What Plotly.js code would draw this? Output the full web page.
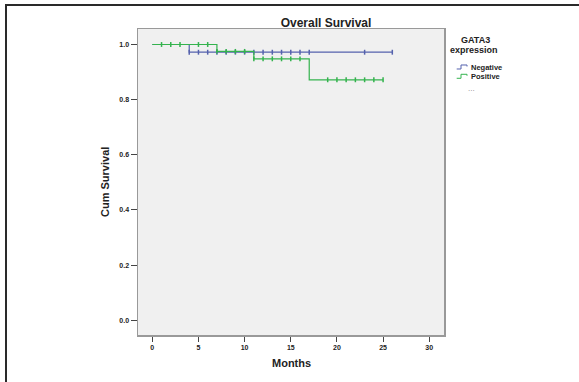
<!DOCTYPE html>
<html>
<head>
<meta charset="utf-8">
<script src="https://cdn.plot.ly/plotly-3.0.1.min.js"></script>
<style>
  html, body { margin:0; padding:0; background:#fff; overflow:hidden; }
  #frame { position:absolute; left:5px; top:4px; width:600px; height:400px; border:2.5px solid #2a2a2a; box-sizing:border-box; pointer-events:none; }
  #chart { position:absolute; left:0; top:0; width:579px; height:382px; }
</style>
</head>
<body>
<div id="chart"></div>
<div id="frame"></div>
<script>
// ---- Data ----
// Negative GATA3 expression: step function (event times and survival after event)
var negStepTime = [0, 4, 26];
var negStepSurv = [1.0, 0.972, 0.972];
var negCensorTime = [4, 5, 6, 7, 8, 9, 10, 11, 12, 13, 14, 15, 16, 17, 23, 26];

// Positive GATA3 expression
var posStepTime = [0, 7, 11, 17, 25];
var posStepSurv = [1.0, 0.975, 0.948, 0.872, 0.872];
var posCensorTime = [1, 2, 3, 5, 6, 7, 8, 9, 10, 11, 12, 13, 14, 15, 16, 19, 20, 21, 22, 23, 24, 25];

var xTicks = [0, 5, 10, 15, 20, 25, 30];
var groupNames = ['Negative', 'Positive'];
var legendTitle = ['GATA3', 'expression'];

// ---- Styles ----
var blue = '#5562ad';
var green = '#34b34e';
var W = 579, H = 382;
var mL = 138, mR = 135, mT = 29, mB = 47;
var pw = W - mL - mR, ph = H - mT - mB;
function px(x) { return (x - mL) / pw; }
function py(y) { return (H - mB - y) / ph; }

function survAt(times, surv, t) {
  var s = surv[0];
  for (var i = 0; i < times.length; i++) { if (times[i] <= t) s = surv[i]; }
  return s;
}

function stepTrace(times, surv, color, name) {
  return { x: times, y: surv, type: 'scatter', mode: 'lines', line: { shape: 'hv', color: color, width: 1.2 }, name: name, showlegend: false, hoverinfo: 'skip' };
}
function censorTrace(ct, times, surv, color, name) {
  return { x: ct, y: ct.map(function (t) { return survAt(times, surv, t); }), type: 'scatter', mode: 'markers',
    marker: { symbol: 'line-ns-open', size: 3.5, color: color, line: { color: color, width: 1.5 } }, name: name, showlegend: false, hoverinfo: 'skip' };
}

var data = [
  stepTrace(negStepTime, negStepSurv, blue, groupNames[0]),
  censorTrace(negCensorTime, negStepTime, negStepSurv, blue, groupNames[0]),
  stepTrace(posStepTime, posStepSurv, green, groupNames[1]),
  censorTrace(posCensorTime, posStepTime, posStepSurv, green, groupNames[1])
];

var tickFont = { family: 'Liberation Sans, Arial, sans-serif', size: 7, color: '#222', weight: 'bold' };
var lblFont = { family: 'Liberation Sans, Arial, sans-serif', size: 11, color: '#222', weight: 'bold' };

function iconPath(yc) {
  var p = [[456.7, yc + 2], [461, yc + 2], [461, yc - 2], [467, yc - 2], [467, yc - 0.5]];
  return p.map(function (q, i) { return (i ? 'L' : 'M') + px(q[0]).toFixed(4) + ',' + py(q[1]).toFixed(4); }).join(' ');
}

var layout = {
  width: W, height: H,
  margin: { l: mL, r: mR, t: mT, b: mB, pad: 0 },
  paper_bgcolor: 'rgba(0,0,0,0)',
  plot_bgcolor: '#f0f0f0',
  showlegend: false,
  title: { text: 'Overall Survival', x: px(326), xref: 'paper', xanchor: 'center', y: 1 - 22.3 / H, yref: 'container', yanchor: 'middle',
    font: { family: 'Liberation Sans, Arial, sans-serif', size: 12, color: '#222', weight: 'bold' } },
  xaxis: { range: [-1.55, 31.6], tickvals: xTicks, ticktext: xTicks.map(String), ticks: 'outside', ticklen: 5, tickwidth: 1, tickcolor: '#444',
    showline: true, mirror: true, linecolor: '#999', linewidth: 1.5, showgrid: false, zeroline: false, tickfont: tickFont, fixedrange: true },
  yaxis: { range: [-0.0533, 1.0562], dtick: 0.2, tick0: 0, tickformat: '.1f', ticks: 'outside', ticklen: 6, tickwidth: 1, tickcolor: '#444',
    showline: true, mirror: true, linecolor: '#999', linewidth: 1.5, showgrid: false, zeroline: false, tickfont: tickFont, fixedrange: true },
  annotations: [
    { text: 'Months', xref: 'paper', yref: 'paper', x: 0.5, y: py(363), xanchor: 'center', yanchor: 'middle', showarrow: false, font: lblFont },
    { text: 'Cum Survival', xref: 'paper', yref: 'paper', x: px(105), y: py(182), xanchor: 'center', yanchor: 'middle', textangle: -90, showarrow: false, font: lblFont },
    { text: legendTitle[0], xref: 'paper', yref: 'paper', x: px(475.8), y: py(39.7), xanchor: 'center', yanchor: 'middle', showarrow: false,
      font: { family: 'Liberation Sans, Arial, sans-serif', size: 9, color: '#222', weight: 'bold' } },
    { text: legendTitle[1], xref: 'paper', yref: 'paper', x: px(474), y: py(50.3), xanchor: 'center', yanchor: 'middle', showarrow: false,
      font: { family: 'Liberation Sans, Arial, sans-serif', size: 9, color: '#222', weight: 'bold' } },
    { text: groupNames[0], xref: 'paper', yref: 'paper', x: px(468.5), y: py(67), xanchor: 'left', yanchor: 'middle', showarrow: false,
      font: { family: 'Liberation Sans, Arial, sans-serif', size: 7.5, color: '#222', weight: 'bold' } },
    { text: groupNames[1], xref: 'paper', yref: 'paper', x: px(468.5), y: py(76.3), xanchor: 'left', yanchor: 'middle', showarrow: false,
      font: { family: 'Liberation Sans, Arial, sans-serif', size: 7.5, color: '#222', weight: 'bold' } },
    { text: '...', xref: 'paper', yref: 'paper', x: px(471.7), y: py(88), xanchor: 'center', yanchor: 'middle', showarrow: false,
      font: { family: 'Liberation Sans, Arial, sans-serif', size: 8, color: '#888' } }
  ],
  shapes: [
    { type: 'path', xref: 'paper', yref: 'paper', path: iconPath(67), line: { color: blue, width: 1 } },
    { type: 'path', xref: 'paper', yref: 'paper', path: iconPath(76.3), line: { color: green, width: 1 } }
  ]
};

Plotly.newPlot('chart', data, layout, { displayModeBar: false, staticPlot: true });
</script>
</body>
</html>
